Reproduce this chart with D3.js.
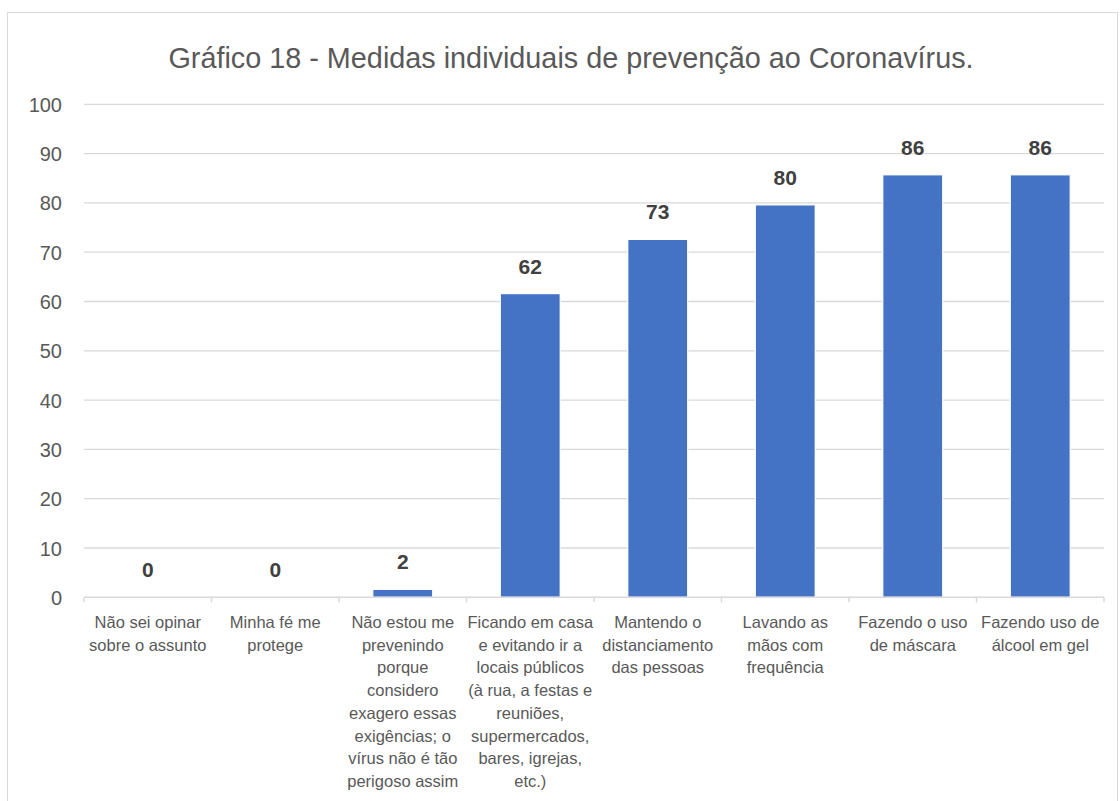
<!DOCTYPE html>
<html>
<head>
<meta charset="utf-8">
<script src="https://cdn.jsdelivr.net/npm/d3@7"></script>
<style>
  html, body { margin: 0; padding: 0; background: #fff; }
  svg { display: block; }
</style>
</head>
<body>
<svg id="chart" width="1120" height="801"></svg>
<script>
const title = "Gráfico 18 - Medidas individuais de prevenção ao Coronavírus.";
const categories = [
  ["Não sei opinar", "sobre o assunto"],
  ["Minha fé me", "protege"],
  ["Não estou me", "prevenindo", "porque", "considero", "exagero essas", "exigências; o", "vírus não é tão", "perigoso assim"],
  ["Ficando em casa", "e evitando ir a", "locais públicos", "(à rua, a festas e", "reuniões,", "supermercados,", "bares, igrejas,", "etc.)"],
  ["Mantendo o", "distanciamento", "das pessoas"],
  ["Lavando as", "mãos com", "frequência"],
  ["Fazendo o uso", "de máscara"],
  ["Fazendo uso de", "álcool em gel"]
];
const values = [0, 0, 1.6, 61.6, 72.6, 79.6, 85.7, 85.7];
const yTicks = [0, 10, 20, 30, 40, 50, 60, 70, 80, 90, 100];

(function () {
const svg = d3.select("#chart");
const font = "'Liberation Sans', Arial, sans-serif";

svg.append("rect")
  .attr("x", 7.5).attr("y", 12.5).attr("width", 1110).attr("height", 800)
  .attr("fill", "none").attr("stroke", "#d9d9d9").attr("stroke-width", 1);

const pLeft = 84, pRight = 1104, pTop = 104.3, pBottom = 597.3;
const x = d3.scaleBand().domain(d3.range(categories.length))
  .range([pLeft, pRight]).paddingInner(0.53).paddingOuter(0.265);
const y = d3.scaleLinear().domain([0, 100]).range([pBottom, pTop]);

svg.append("text")
  .attr("x", 571).attr("y", 68)
  .attr("text-anchor", "middle")
  .attr("font-family", font)
  .attr("font-size", 28.8)
  .attr("fill", "#595959")
  .text(title);

svg.append("g").selectAll("line")
  .data(yTicks.filter(d => d > 0))
  .join("line")
  .attr("x1", pLeft).attr("x2", pRight)
  .attr("y1", d => y(d)).attr("y2", d => y(d))
  .attr("stroke", "#d9d9d9").attr("stroke-width", 1.3);

const yAxis = d3.axisLeft(y).tickValues(yTicks).tickSize(0).tickPadding(0);
const gy = svg.append("g").attr("transform", "translate(62,0)").call(yAxis);
gy.select(".domain").remove();
gy.selectAll("text")
  .attr("font-family", font).attr("font-size", 20).attr("fill", "#595959")
  .attr("dy", "0.35em");

svg.append("g").selectAll("rect")
  .data(values)
  .join("rect")
  .attr("x", (d, i) => x(i))
  .attr("width", x.bandwidth())
  .attr("y", d => y(d))
  .attr("height", d => pBottom - y(d))
  .attr("fill", "#4472C4")
  .attr("stroke", "#ffffff").attr("stroke-width", 1.2);

const step = x.step();
const xAxis = svg.append("g");
xAxis.append("line")
  .attr("x1", pLeft).attr("x2", pRight)
  .attr("y1", pBottom).attr("y2", pBottom)
  .attr("stroke", "#d9d9d9").attr("stroke-width", 1.5);
xAxis.selectAll("line.tick")
  .data(d3.range(categories.length + 1))
  .join("line").attr("class", "tick")
  .attr("x1", i => pLeft + i * step).attr("x2", i => pLeft + i * step)
  .attr("y1", pBottom).attr("y2", pBottom + 5)
  .attr("stroke", "#d9d9d9").attr("stroke-width", 1.5);

const xl = svg.append("g").selectAll("text")
  .data(categories)
  .join("text")
  .attr("text-anchor", "middle")
  .attr("font-family", font).attr("font-size", 16.5).attr("fill", "#595959");
xl.each(function (lines, i) {
  const t = d3.select(this);
  lines.forEach((ln, k) => {
    t.append("tspan")
      .attr("x", x(i) + x.bandwidth() / 2)
      .attr("y", 628 + k * 22.7)
      .text(ln);
  });
});

svg.append("g").selectAll("text")
  .data(values)
  .join("text")
  .attr("x", (d, i) => x(i) + x.bandwidth() / 2)
  .attr("y", d => y(d) - 20)
  .attr("text-anchor", "middle")
  .attr("font-family", font).attr("font-size", 21).attr("font-weight", "bold")
  .attr("fill", "#404040")
  .text(d => d3.format(".0f")(d));
})();
</script>
</body>
</html>
